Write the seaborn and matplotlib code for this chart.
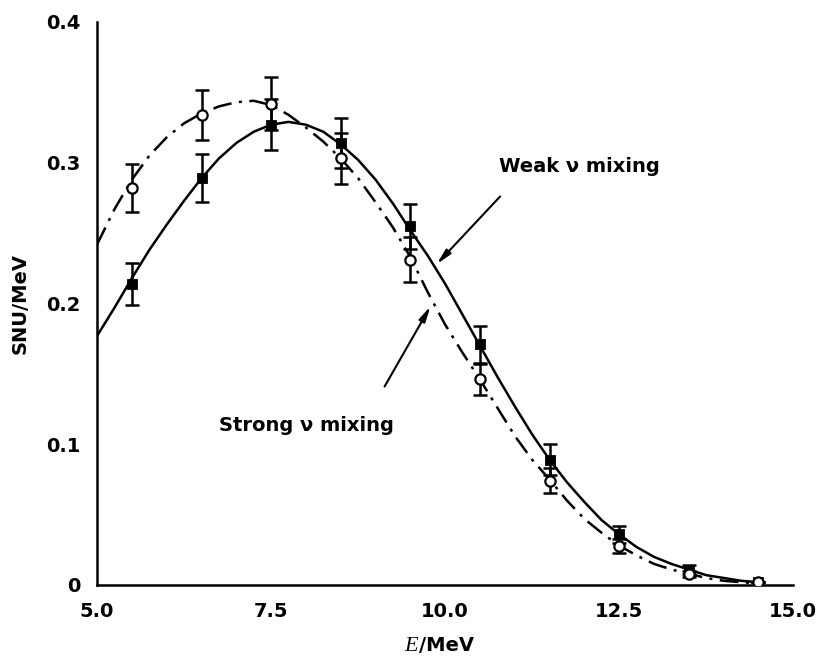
import numpy as np
import pandas as pd
import matplotlib
matplotlib.use("Agg")
import matplotlib.pyplot as plt
import seaborn as sns

sns.set_style("white")
plt.rcParams['font.family'] = ['DejaVu Sans']
plt.rcParams['text.color'] = 'black'
plt.rcParams['axes.labelcolor'] = 'black'
plt.rcParams['xtick.color'] = 'black'
plt.rcParams['ytick.color'] = 'black'

# curves (SNU/MeV)
curve_e = [5.0, 5.25, 5.5, 5.75, 6.0, 6.25, 6.5, 6.75, 7.0, 7.25, 7.5, 7.75, 8.0,
           8.25, 8.5, 8.75, 9.0, 9.25, 9.5, 9.75, 10.0, 10.25, 10.5, 10.75, 11.0,
           11.25, 11.5, 11.75, 12.0, 12.25, 12.5, 12.75, 13.0, 13.25, 13.5, 13.75,
           14.0, 14.25, 14.5]
weak_curve = [0.177, 0.197, 0.218, 0.238, 0.256, 0.273, 0.289, 0.303, 0.314, 0.322,
              0.327, 0.329, 0.327, 0.322, 0.313, 0.302, 0.288, 0.271, 0.252, 0.234,
              0.214, 0.192, 0.170, 0.148, 0.127, 0.107, 0.089, 0.073, 0.059, 0.046,
              0.036, 0.027, 0.020, 0.015, 0.011, 0.007, 0.005, 0.003, 0.002]
strong_curve = [0.242, 0.267, 0.288, 0.305, 0.318, 0.328, 0.335, 0.340, 0.343, 0.344,
                0.341, 0.334, 0.325, 0.315, 0.303, 0.289, 0.272, 0.254, 0.233, 0.208,
                0.185, 0.165, 0.146, 0.126, 0.106, 0.089, 0.075, 0.060, 0.047, 0.037,
                0.028, 0.021, 0.015, 0.011, 0.008, 0.005, 0.003, 0.002, 0.001]

# measured points
point_e = [5.5, 6.5, 7.5, 8.5, 9.5, 10.5, 11.5, 12.5, 13.5, 14.5]
weak_y = [0.214, 0.289, 0.327, 0.314, 0.255, 0.171, 0.089, 0.036, 0.011, 0.002]
weak_err = [0.015, 0.017, 0.018, 0.018, 0.016, 0.013, 0.011, 0.006, 0.003, 0.0]
strong_y = [0.282, 0.334, 0.342, 0.303, 0.231, 0.146, 0.074, 0.028, 0.008, 0.002]
strong_err = [0.017, 0.018, 0.019, 0.018, 0.016, 0.011, 0.009, 0.005, 0.002, 0.0]

x_ticks = [5.0, 7.5, 10.0, 12.5, 15.0]
y_ticks = [0, 0.1, 0.2, 0.3, 0.4]
y_labels = ["0", "0.1", "0.2", "0.3", "0.4"]

curves = pd.DataFrame({"E": curve_e, "weak": weak_curve, "strong": strong_curve})

fig = plt.figure(figsize=(8.16, 6.57), dpi=100)
ax = fig.add_axes([0.119, 0.1096, 0.853, 0.857])

lw = 1.8
sns.lineplot(data=curves, x="E", y="weak", ax=ax, color="black", lw=lw)
sns.lineplot(data=curves, x="E", y="strong", ax=ax, color="black", lw=lw,
             dashes=False, linestyle=(0, (7.5, 3, 1.2, 3)))

# error bars
ax.errorbar(point_e, weak_y, yerr=weak_err, fmt="none", ecolor="black",
            elinewidth=1.8, capsize=5, capthick=1.8)
ax.errorbar(point_e, strong_y, yerr=strong_err, fmt="none", ecolor="black",
            elinewidth=1.8, capsize=5, capthick=1.8)
sns.scatterplot(x=point_e, y=weak_y, ax=ax, marker="s", s=55, color="black",
                edgecolor="black", zorder=5)
sns.scatterplot(x=point_e, y=strong_y, ax=ax, marker="o", s=55, color="white",
                edgecolor="black", linewidth=1.6, zorder=6)

ax.set_xlim(5.0, 15.0)
ax.set_ylim(0, 0.4)
ax.set_xticks(x_ticks)
ax.set_xticklabels([f"{v:.1f}" for v in x_ticks])
ax.set_yticks(y_ticks)
ax.set_yticklabels(y_labels)
ax.tick_params(direction="in", length=8, width=1.8, labelsize=14, pad=12)
for lab in ax.get_xticklabels() + ax.get_yticklabels():
    lab.set_fontweight("bold")

sns.despine(ax=ax)
for s in ["left", "bottom"]:
    ax.spines[s].set_linewidth(1.8)
    ax.spines[s].set_color("black")

ax.set_ylabel("SNU/MeV", fontsize=14, fontweight="bold", labelpad=12)
ax.set_xlabel("")
# x label: italic serif E followed by /MeV
fig.text(0.5125, 0.0095, "E", fontsize=16, family="Liberation Serif", style="italic",
         ha="right", va="baseline")
fig.text(0.5135, 0.0095, "/MeV", fontsize=14, fontweight="bold", ha="left", va="baseline")

# annotations
arrow = dict(arrowstyle="-|>,head_length=0.9,head_width=0.2", color="black", lw=1.5,
             shrinkA=0, shrinkB=0)
ax.text(10.77, 0.297, "Weak ν mixing", fontsize=14, fontweight="bold", va="center", ha="left")
ax.annotate("", xy=(9.88, 0.228), xytext=(10.79, 0.276), arrowprops=arrow)
ax.text(6.75, 0.113, "Strong ν mixing", fontsize=14, fontweight="bold", va="center", ha="left")
ax.annotate("", xy=(9.79, 0.198), xytext=(9.13, 0.141), arrowprops=arrow)

fig.savefig("out.png", dpi=100)
